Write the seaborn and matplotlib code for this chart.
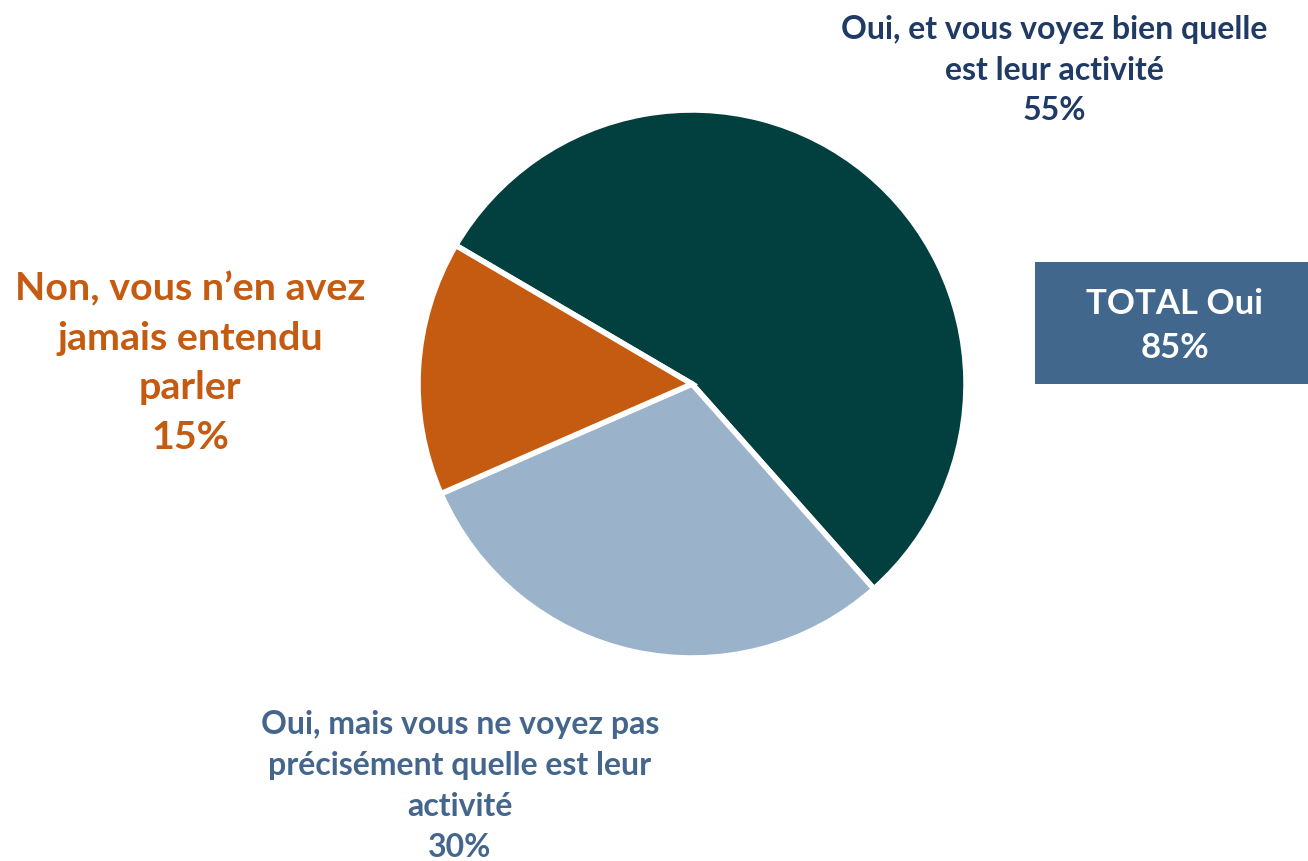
import matplotlib
matplotlib.use("Agg")
import matplotlib.pyplot as plt
import seaborn as sns
from matplotlib.patches import Rectangle

sns.set_theme(style="white")
plt.rcParams['font.family'] = ['Lato', 'DejaVu Sans']

# Data
categories = ["Oui, et vous voyez bien quelle\nest leur activité",
              "Oui, mais vous ne voyez pas\nprécisément quelle est leur\nactivité",
              "Non, vous n’en avez\njamais entendu\nparler"]
values = [55, 30, 15]
colors = sns.color_palette(["#023F3F", "#9AB3CB", "#C55A11"])
text_colors = ["#1F3A64", "#44668C", "#C55A11"]
total_label = "TOTAL Oui"
total_value = values[0] + values[1]

W, H = 1308, 862
fig = plt.figure(figsize=(W / 100, H / 100), dpi=100)
ax = fig.add_axes([0, 0, 1, 1])
ax.set_xlim(0, W)
ax.set_ylim(0, H)
ax.set_aspect('equal')
ax.axis('off')

ax.pie(values, colors=colors, startangle=149.6, counterclock=False,
       center=(692, H - 385), radius=274, explode=[0.033, 0, 0],
       wedgeprops=dict(edgecolor='white', linewidth=4), frame=True)
ax.set_xlim(0, W)
ax.set_ylim(0, H)
ax.axis('off')

# Labels
label_specs = [
    (1054, H - 70, 23, 1.48),
    (460, H - 786, 23, 1.5),
    (190, H - 363, 28.4, 1.5),
]
for (cat, val, tc, (x, y, fs, ls)) in zip(categories, values, text_colors, label_specs):
    ax.text(x, y, f"{cat}\n{val}%", ha='center', va='center', color=tc,
            fontsize=fs, fontweight='bold', linespacing=ls)

# Total box
ax.add_patch(Rectangle((1035, H - 385), 273, 122, facecolor="#42678C", edgecolor='none'))
ax.text(1175, H - 326, f"{total_label}\n{total_value}%", ha='center', va='center',
        color='white', fontsize=25, fontweight='bold', linespacing=1.45)

fig.savefig("out.png", dpi=100)
